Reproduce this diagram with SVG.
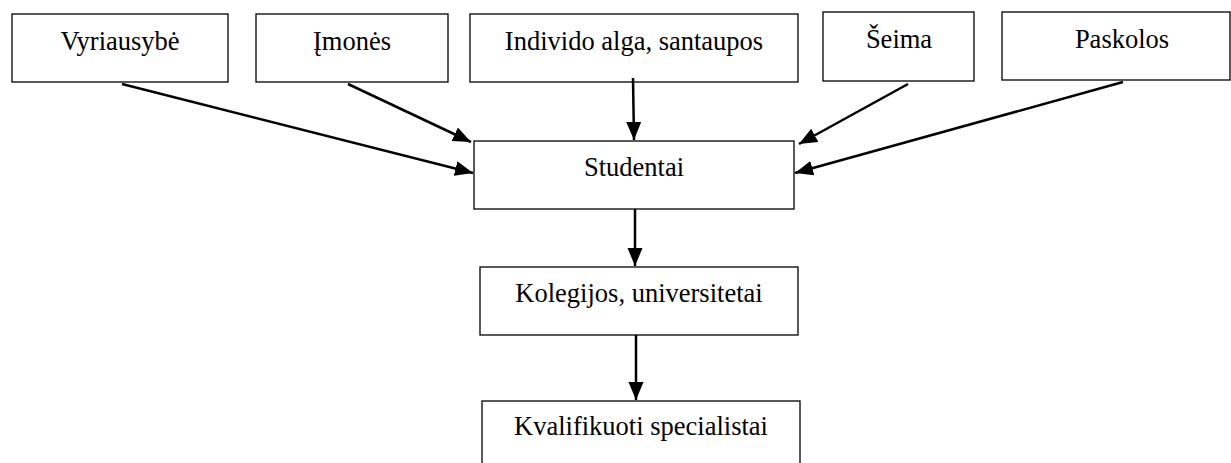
<svg xmlns="http://www.w3.org/2000/svg" width="1231" height="463" viewBox="0 0 1231 463">
<style>
.box{fill:#fff;stroke:#000;stroke-width:1.3}
.t{font-family:"Liberation Serif","Times New Roman",serif;font-size:26.5px;fill:#000;text-anchor:middle}
.c{stroke:#000;stroke-width:2.5;fill:none;marker-end:url(#ah)}
</style>
<defs>
<marker id="ah" markerUnits="userSpaceOnUse" markerWidth="20" markerHeight="16" refX="18" refY="7.5" orient="auto">
<path d="M0,0 L18,7.5 L0,15 z" fill="#000"/>
</marker>
</defs>
<rect width="1231" height="463" fill="#fff"/>
<g id="vyriausybe"><rect class="box" x="12" y="14" width="216" height="68"/><text class="t" x="120" y="50">Vyriausybė</text></g>
<g id="imones"><rect class="box" x="256" y="14" width="192" height="68"/><text class="t" x="352" y="50">Įmonės</text></g>
<g id="individo"><rect class="box" x="470" y="14" width="328" height="68"/><text class="t" x="634" y="50">Individo alga, santaupos</text></g>
<g id="seima"><rect class="box" x="823" y="12" width="151" height="69"/><text class="t" x="899" y="48">Šeima</text></g>
<g id="paskolos"><rect class="box" x="1002" y="12" width="228" height="68"/><text class="t" x="1122" y="48">Paskolos</text></g>
<g id="studentai"><rect class="box" x="474" y="141" width="320" height="68"/><text class="t" x="634" y="176">Studentai</text></g>
<g id="kolegijos"><rect class="box" x="480" y="267" width="318" height="68"/><text class="t" x="639" y="302">Kolegijos, universitetai</text></g>
<g id="kvalifikuoti"><rect class="box" x="482" y="401" width="318" height="80"/><text class="t" x="641" y="435">Kvalifikuoti specialistai</text></g>
<g id="connectors">
<line class="c" x1="122" y1="84" x2="473" y2="173"/>
<line class="c" x1="348" y1="84" x2="471" y2="142"/>
<line class="c" x1="633" y1="78" x2="634" y2="140"/>
<line class="c" x1="908" y1="84" x2="799" y2="144"/>
<line class="c" x1="1123" y1="82" x2="795" y2="173"/>
<line class="c" x1="635" y1="209" x2="635" y2="266"/>
<line class="c" x1="636" y1="335" x2="636" y2="400"/>
</g>
</svg>
